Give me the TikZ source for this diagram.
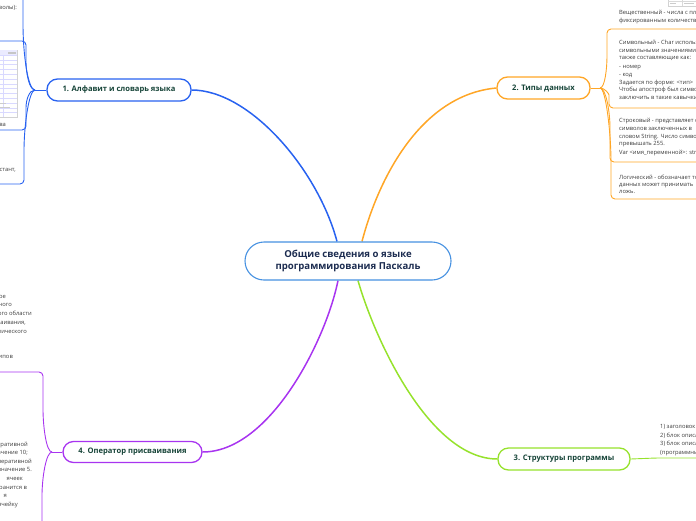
\documentclass[tikz,border=0pt]{standalone}
\usepackage{fontspec}
\setmainfont{Open Sans}
\usetikzlibrary{backgrounds}
\definecolor{cblue}{RGB}{40,98,240}
\definecolor{corange}{RGB}{255,166,38}
\definecolor{cpurple}{RGB}{168,52,240}
\definecolor{cgreen}{RGB}{150,226,44}
\definecolor{ccentral}{RGB}{70,145,225}
\definecolor{navy}{RGB}{28,44,80}
\definecolor{tealtext}{RGB}{22,68,56}
\definecolor{bodytext}{RGB}{60,60,60}
\tikzset{
  topic/.style={draw, line width=1.3pt, fill=white, rounded corners=10.5pt, minimum height=22pt,
    inner sep=0pt, font=\fontsize{7.6}{9}\selectfont\bfseries, text=tealtext},
  rootbox/.style={draw=ccentral, line width=1.1pt, fill=white, rounded corners=19pt, minimum width=206pt,
    minimum height=38pt, align=center, font=\fontsize{9.6}{12.5}\selectfont\bfseries, text=navy},
  branch/.style={line width=1.5pt},
  twig/.style={line width=0.9pt, rounded corners=4pt},
  leaf/.style={font=\fontsize{5.8}{7}\selectfont, text=bodytext, inner sep=0pt},
  pic/.style={draw=gray!35, line width=0.4pt, fill=white},
  picline/.style={draw=blue!15, line width=0.4pt},
}
\begin{document}
\begin{tikzpicture}[x=1pt,y=-1pt]
\useasboundingbox (0,0) rectangle (696,520);
\begin{scope}
\clip (0,0) rectangle (696,520);
% nodes
\node[rootbox] (root) at (348,261) {Общие сведения о языке\\программирования Паскаль};
\node[topic, draw=cblue, minimum width=144pt] (n1) at (119,90) {1. Алфавит и словарь языка};
\node[topic, draw=corange, minimum width=93pt] (n2) at (543.5,88) {2. Типы данных};
\node[topic, draw=cgreen, minimum width=132pt] (n3) at (564,459) {3. Структуры программы};
\node[topic, draw=cpurple, minimum width=139pt, minimum height=21pt] (n4) at (132.5,452) {4. Оператор присваивания};

% junctions and underline ends
\coordinate (j1) at (35,90);
\coordinate (j2) at (600,88);
\coordinate (j4) at (52,452);
\coordinate (u0) at (-5,-20);
\coordinate (u1) at (-5,41);
\coordinate (u2) at (-5,130);
\coordinate (u3) at (-5,184);
\coordinate (u4) at (-5,372);
\coordinate (u5) at (-5,560);
\coordinate (v1) at (700,29);
\coordinate (v2) at (700,108);
\coordinate (v3) at (700,162);
\coordinate (v4) at (700,199);
\coordinate (g1) at (656,458);
\coordinate (v5) at (700,458);

\begin{pgfonlayer}{background}
% main branches
\draw[branch,cblue] ([xshift=-11pt]root.north) .. controls (318,170) and (250,90) .. (n1.east);
\draw[branch,corange] ([xshift=14pt]root.north) .. controls (378,180) and (420,95) .. (n2.west);
\draw[branch,cpurple] ([xshift=-10pt]root.south) .. controls (326,340) and (270,452) .. (n4.east);
\draw[branch,cgreen] ([xshift=10pt]root.south) .. controls (375,340) and (430,459) .. (n3.west);
\end{pgfonlayer}

% branch 1 children
\draw[twig,cblue] (n1.west) -- (j1);
\draw[twig,cblue] (j1) .. controls (28,90) and (23,55) .. (23,20) -- (23,-20) -- (u0);
\draw[twig,cblue] (j1) .. controls (29,90) and (26,72) .. (26,58) -- (26,41) -- (u1);
\draw[twig,cblue] (j1) .. controls (29,90) and (26,100) .. (26,112) -- (26,130) -- (u2);
\draw[twig,cblue] (j1) .. controls (29,90) and (24,125) .. (24,155) -- (24,184) -- (u3);
% branch 4 children
\draw[twig,cpurple] (n4.west) -- (j4);
\draw[twig,cpurple] (j4) .. controls (46,452) and (43,425) .. (43,405) -- (43,372) -- (u4);
\draw[twig,cpurple] (j4) .. controls (46,452) and (42,478) .. (42,500) -- (42,560) -- (u5);
% branch 2 children
\draw[twig,corange] (n2.east) -- (j2);
\draw[twig,corange] (j2) .. controls (605,88) and (607,68) .. (607,52) -- (607,29) -- (v1);
\draw[twig,corange] (j2) .. controls (605,88) and (609,94) .. (609,99) -- (609,108) -- (v2);
\draw[twig,corange] (j2) .. controls (606,88) and (610,112) .. (610,132) -- (610,162) -- (v3);
\draw[twig,corange] (j2) .. controls (606,88) and (611,135) .. (611,165) -- (611,199) -- (v4);
% branch 3 child
\draw[twig,cgreen] (n3.east) -- (g1) -- (v5);

% picture in left box
\draw[pic] (-10,50) rectangle (17,117);
\fill[blue!8] (-10,50) rectangle (17,55);
\foreach \k in {0,...,12} \draw[picline] (-10,{55+\k*4.8}) -- (17,{55+\k*4.8});
\draw[picline] (3,55) -- (3,117);
\fill[gray!45] (8,51.5) rectangle (16,53.5);
\fill[gray!40] (-5,102.5) rectangle (6,103.8);
\fill[gray!40] (-5,107) rectangle (10,108.3);
% picture in top-right box
\draw[pic] (668,-15) rectangle (704,6);
\draw[draw=gray!30, line width=0.4pt] (682,-15) -- (682,6);
\draw[draw=gray!30, line width=0.4pt] (668,1) -- (704,1);
\fill[gray!40] (670,2.5) rectangle (676,3.5);
\fill[gray!40] (684,2.5) rectangle (694,3.5);

% left texts (blue)
\node[leaf, anchor=base east] (t1) at (17,9) {символы):};
\node[leaf, anchor=base east] (t2) at (6,126) {слова};
\node[leaf, anchor=base east] (t3) at (16,171) {констант,};
% left texts (purple, upper)
\foreach \t/\xx/\yy [count=\i] in {{основное}/6/296, {переменного}/12/304, {того области}/32/313, {присваивания,}/26/322, {динамического}/27/331, {типов}/13/356}
  \node[leaf, anchor=base east] (p\i) at (\xx,\yy+2) {\t};
% left texts (purple, lower)
\foreach \t/\xx/\yy [count=\i] in {{оперативной}/28/444, {значение 10;}/28/452, {оперативной}/32/461, {значение 5.}/32/469, {ячеек}/23/478, {хранится в}/27/487, {я}/7/495, {ячейку}/18/504}
  \node[leaf, anchor=base east] (q\i) at (\xx,\yy+2) {\t};
% right texts (orange)
\foreach \t/\yy [count=\i] in {{Вещественный - числа с плавающей}/12, {фиксированным количеством}/20}
  \node[leaf, anchor=base west] (a\i) at (619,\yy+2) {\t};
\foreach \t/\yy [count=\i] in {{Символьный - Char используется}/42, {символьными значениями}/50, {также составляющие как:}/57.5, {- номер}/66, {- код}/74, {Задается по форме: <тип>}/82, {Чтобы апостроф был символом}/89.5, {заключить в такие кавычки}/97}
  \node[leaf, anchor=base west] (b\i) at (619,\yy+2) {\t};
\foreach \t/\yy [count=\i] in {{Строковый - представляет собой}/120, {символов заключенных в}/128, {словом String. Число символов}/136, {превышать 255.}/143.5, {Var <имя\_переменной>: string}/152}
  \node[leaf, anchor=base west] (c\i) at (619,\yy+2) {\t};
\foreach \t/\yy [count=\i] in {{Логический - обозначает тот}/177, {данных может принимать}/184, {ложь.}/191.5}
  \node[leaf, anchor=base west] (d\i) at (619,\yy+2) {\t};
% right texts (green)
\foreach \t/\yy [count=\i] in {{1) заголовок программы}/426, {2) блок описаний}/435, {3) блок описания операторов}/443, {(программный блок)}/452}
  \node[leaf, anchor=base west] (e\i) at (660,\yy+2) {\t};
\end{scope}
\end{tikzpicture}
\end{document}
